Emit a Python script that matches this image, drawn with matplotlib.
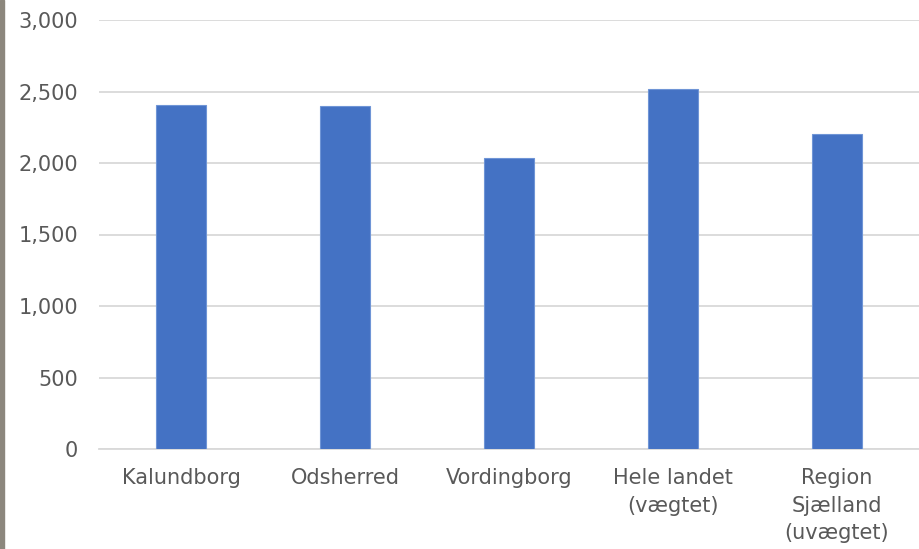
import matplotlib
matplotlib.use("Agg")
import matplotlib.pyplot as plt
from matplotlib.patches import Rectangle

categories = ["Kalundborg", "Odsherred", "Vordingborg", "Hele landet\n(vægtet)", "Region\nSjælland\n(uvægtet)"]
values = [2408, 2397, 2035, 2517, 2203]
yticks = [0, 500, 1000, 1500, 2000, 2500, 3000]

plt.rcParams['font.family'] = ['DejaVu Sans']
fig = plt.figure(figsize=(9.2, 5.49), dpi=100)
ax = fig.add_axes([99/920, 1-449/549, 820/920, 429/549])

x = list(range(len(categories)))
ax.bar(x, values, width=0.31, color="#4472c4", edgecolor="#6f95d6", linewidth=0.8, zorder=3)
ax.set_xlim(-0.5, len(categories)-0.5)
ax.set_ylim(0, 3000)
ax.set_yticks(yticks)
ax.set_yticklabels([f"{v:,}" for v in yticks])
ax.set_xticks(x)
ax.set_xticklabels(categories, linespacing=1.45)
ax.grid(axis='y', color="#d9d9d9", linewidth=1.3, zorder=0)
for s in ['left', 'right', 'top']:
    ax.spines[s].set_visible(False)
ax.spines['bottom'].set_color("#d9d9d9")
ax.spines['bottom'].set_linewidth(1.3)
ax.tick_params(axis='both', length=0, labelsize=15, labelcolor="#595959")
ax.tick_params(axis='y', pad=15)
ax.tick_params(axis='x', pad=14)

fig.patches.append(Rectangle((0, 0), 4/920, 1, transform=fig.transFigure, color="#8c877d", zorder=0))
fig.savefig("out.png", dpi=100)
